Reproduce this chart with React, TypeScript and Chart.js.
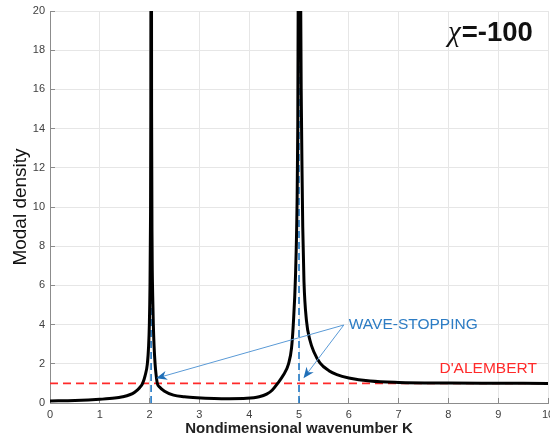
import React, { useEffect, useRef } from "react";
import { Chart, registerables } from "chart.js";

Chart.register(...registerables);

// ---- data ----
const K_VALUES = [
  0, 0.5, 1.0, 1.3, 1.46, 1.6, 1.7, 1.8, 1.86, 1.91,
  1.955, 1.98, 1.995, 2.008, 2.017, 2.025, 2.032, 2.04, 2.05, 2.062,
  2.075, 2.09, 2.11, 2.13, 2.155, 2.2, 2.3, 2.48, 2.7, 2.95,
  3.3, 3.6, 3.95, 4.2, 4.35, 4.46, 4.57, 4.68, 4.79, 4.85,
  4.885, 4.93, 4.96, 4.975, 4.983, 5.005, 5.035, 5.048, 5.06, 5.075,
  5.1, 5.15, 5.22, 5.3, 5.42, 5.6, 5.76, 6.0, 6.43, 7.0,
  8.0, 9.0, 10.0,
];
const DENSITY = [
  0.1, 0.13, 0.19, 0.25, 0.32, 0.42, 0.55, 0.78, 1.0, 1.4,
  2.0, 2.9, 4.0, 6.0, 9.0, 15, 40, 15, 8, 5.5,
  4.0, 2.9, 2.0, 1.45, 1.0, 0.82, 0.6, 0.4, 0.32, 0.27,
  0.23, 0.22, 0.24, 0.32, 0.45, 0.65, 1.0, 1.4, 2.0, 2.8,
  4.0, 6.5, 10, 14, 20, 60, 20, 15, 12, 9,
  6.2, 4.2, 3.2, 2.6, 2.05, 1.65, 1.45, 1.28, 1.12, 1.05,
  1.02, 1.01, 1.0,
];
const X_MIN = 0;
const X_MAX = 10;
const X_STEP = 1;
const Y_MIN = 0;
const Y_MAX = 20;
const Y_STEP = 2;
const DALEMBERT_LEVEL = 1;
const WAVE_STOP_K = [2.03, 5];
const ARROW_FROM = [5.9, 3.98];
const ARROW_TARGETS = [
  [2.13, 1.26],
  [5.09, 1.26],
];
const WAVE_LABEL = "WAVE-STOPPING";
const WAVE_LABEL_AT = [6.0, 3.98];
const DALEMBERT_LABEL = "D'ALEMBERT";
const DALEMBERT_LABEL_AT = [7.82, 1.75];
const CHI_SYMBOL = "χ";
const CHI_VALUE = "=-100";
const CHI_LABEL_AT = [7.99, 18.93];
const X_TITLE = "Nondimensional wavenumber K";
const Y_TITLE = "Modal density";

const FONT = "'Liberation Sans', Arial, Helvetica, sans-serif";
const BLUE_TEXT = "#2c7cc4";
const BLUE_LINE = "#5a9ad6";
const BLUE_HEAD = "#1f6fb8";
const RED = "#ff2a2a";

const annotationPlugin = {
  id: "annotations",
  afterDatasetsDraw(chart: any) {
    const { ctx, scales } = chart;
    const xs = scales.x;
    const ys = scales.y;
    const px = (v: number) => xs.getPixelForValue(v);
    const py = (v: number) => ys.getPixelForValue(v);
    ctx.save();

    // arrows
    const sx = px(ARROW_FROM[0]);
    const sy = py(ARROW_FROM[1]);
    for (const [tk, tv] of ARROW_TARGETS) {
      const tx = px(tk);
      const ty = py(tv);
      const ang = Math.atan2(ty - sy, tx - sx);
      const len = 11;
      const hw = 4.5;
      ctx.strokeStyle = BLUE_LINE;
      ctx.lineWidth = 1;
      ctx.setLineDash([]);
      ctx.beginPath();
      ctx.moveTo(sx, sy);
      ctx.lineTo(tx - Math.cos(ang) * 6, ty - Math.sin(ang) * 6);
      ctx.stroke();
      const bx = tx - Math.cos(ang) * len;
      const by = ty - Math.sin(ang) * len;
      const nx = -Math.sin(ang);
      const ny = Math.cos(ang);
      const mx = tx - Math.cos(ang) * (len * 0.7);
      const my = ty - Math.sin(ang) * (len * 0.7);
      ctx.fillStyle = BLUE_HEAD;
      ctx.beginPath();
      ctx.moveTo(tx, ty);
      ctx.lineTo(bx + nx * hw, by + ny * hw);
      ctx.lineTo(mx, my);
      ctx.lineTo(bx - nx * hw, by - ny * hw);
      ctx.closePath();
      ctx.fill();
    }

    // texts
    ctx.textBaseline = "middle";
    ctx.textAlign = "left";
    ctx.fillStyle = BLUE_TEXT;
    ctx.font = `15.5px ${FONT}`;
    ctx.fillText(WAVE_LABEL, px(WAVE_LABEL_AT[0]), py(WAVE_LABEL_AT[1]));

    ctx.fillStyle = RED;
    ctx.font = `15.5px ${FONT}`;
    ctx.fillText(DALEMBERT_LABEL, px(DALEMBERT_LABEL_AT[0]), py(DALEMBERT_LABEL_AT[1]));

    ctx.fillStyle = "#111";
    ctx.textBaseline = "alphabetic";
    const cx = px(CHI_LABEL_AT[0]);
    const cy = py(CHI_LABEL_AT[1]) + 9.5;
    ctx.font = `italic 29px 'Liberation Serif', 'DejaVu Serif', serif`;
    ctx.fillText(CHI_SYMBOL, cx, cy);
    const w = ctx.measureText(CHI_SYMBOL).width;
    ctx.font = `bold 27.5px ${FONT}`;
    ctx.fillText(CHI_VALUE, cx + w + 1, cy);

    ctx.restore();
  },
};

export default function App() {
  const ref = useRef<HTMLCanvasElement | null>(null);

  useEffect(() => {
    document.body.style.overflow = "hidden";
    document.documentElement.style.overflow = "hidden";
    const canvas = ref.current;
    if (!canvas) return;

    const curve = K_VALUES.map((k, i) => ({ x: k, y: DENSITY[i] }));
    const dalembert = [
      { x: X_MIN, y: DALEMBERT_LEVEL },
      { x: X_MAX, y: DALEMBERT_LEVEL },
    ];
    const stops = WAVE_STOP_K.map((k) => [
      { x: k, y: Y_MIN },
      { x: k, y: Y_MAX },
    ]);

    const tickColor = "#8a8a8a";
    const gridColor = "#e6e6e6";

    const chart = new Chart(canvas, {
      type: "line",
      data: {
        datasets: [
          {
            label: "density",
            data: curve,
            borderColor: "#000",
            borderWidth: 3,
            pointRadius: 0,
            cubicInterpolationMode: "monotone",
            fill: false,
          },
          {
            label: "dalembert",
            data: dalembert,
            borderColor: RED,
            borderWidth: 1.6,
            borderDash: [8, 5],
            pointRadius: 0,
            fill: false,
          },
          ...stops.map((d, i) => ({
            label: "stop" + i,
            data: d,
            borderColor: "#1f77c4",
            borderWidth: 1.6,
            borderDash: [7, 4],
            pointRadius: 0,
            fill: false,
          })),
        ],
      },
      options: {
        responsive: false,
        animation: false,
        events: [],
        layout: { padding: { left: 0, right: 24, top: 11, bottom: 0 } },
        plugins: {
          legend: { display: false },
          tooltip: { enabled: false },
          title: { display: false },
        },
        scales: {
          x: {
            type: "linear",
            min: X_MIN,
            max: X_MAX,
            afterFit: (s: any) => {
              s.height = 38;
              s.paddingLeft = 0;
              s.paddingRight = 0;
            },
            ticks: {
              stepSize: X_STEP,
              color: "#404040",
              font: { family: FONT, size: 11 },
              padding: 10,
              maxRotation: 0,
            },
            grid: {
              color: gridColor,
              tickColor: tickColor,
              tickLength: -5,
              drawTicks: true,
            },
            border: { display: true, color: "#8c8c8c", width: 1 },
            title: {
              display: true,
              text: X_TITLE,
              color: "#222",
              font: { family: FONT, size: 15, weight: "bold" },
              padding: { top: 0, bottom: 3 },
            },
          },
          y: {
            type: "linear",
            min: Y_MIN,
            max: Y_MAX,
            afterFit: (s: any) => {
              s.width = 50;
              s.paddingTop = 0;
              s.paddingBottom = 0;
            },
            ticks: {
              stepSize: Y_STEP,
              color: "#404040",
              font: { family: FONT, size: 11 },
              padding: 10,
            },
            grid: {
              color: gridColor,
              tickColor: tickColor,
              tickLength: -5,
              drawTicks: true,
            },
            border: { display: true, color: "#8c8c8c", width: 1 },
            title: {
              display: true,
              text: Y_TITLE,
              color: "#111",
              font: { family: FONT, size: 19 },
              padding: { top: 9.5, bottom: 0 },
            },
          },
        },
      },
      plugins: [annotationPlugin],
    } as any);

    return () => chart.destroy();
  }, []);

  return (
    <div style={{ position: "absolute", left: 0, top: 0, width: 572, height: 441, background: "#fff" }}>
      <canvas ref={ref} width={572} height={441} style={{ display: "block" }} />
    </div>
  );
}
